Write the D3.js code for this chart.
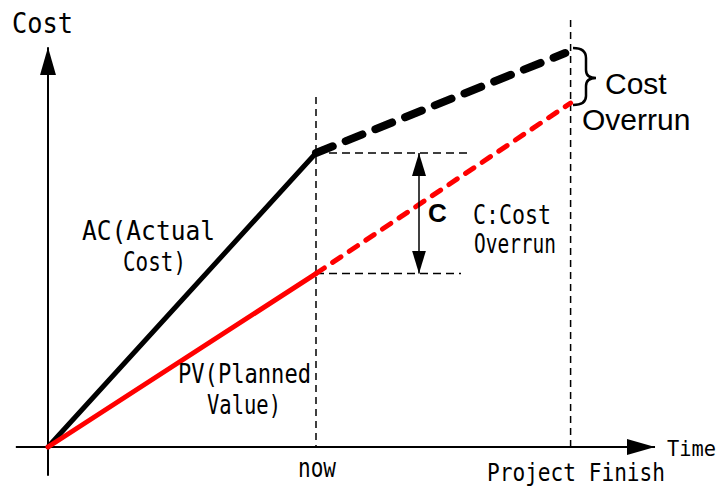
<!DOCTYPE html>
<html><head><meta charset="utf-8">
<script src="https://cdn.jsdelivr.net/npm/d3@7"></script>
<style>html,body{margin:0;padding:0;background:#fff;}svg{display:block;}</style>
</head><body>
<script>
// ---- data (time units: now = 1; cost units arbitrary) ----
const milestones = [
  {name: "now", t: 1},
  {name: "Project Finish", t: 1.95}
];
const acActual   = [[0, 0], [1, 100]];
const acForecast = [[1, 100], [1.93, 134]];
const pvActual   = [[0, 0], [1, 59]];
const pvForecast = [[1, 59], [1.95, 117]];
const axisTitles = ["Cost", "Time"];

const W = 722, H = 486;
const svg = d3.select("body").append("svg").attr("width", W).attr("height", H);
const x = d3.scaleLinear().domain([0, 2]).range([48, 584]);
const y = d3.scaleLinear().domain([0, 150]).range([447, 6]);
const line = d3.line().x(d => x(d[0])).y(d => y(d[1]));
const mono = "'DejaVu Sans Mono', 'Liberation Mono', monospace";
const sans = "'Liberation Sans', Arial, sans-serif";

// arrow markers
const defs = svg.append("defs");
defs.append("marker").attr("id", "axArrow").attr("viewBox", "0 0 28 16")
  .attr("refX", 28).attr("refY", 8).attr("markerWidth", 28).attr("markerHeight", 16)
  .attr("markerUnits", "userSpaceOnUse").attr("orient", "auto")
  .append("path").attr("d", "M0,0 L28,8 L0,16 Z").attr("fill", "#000");
defs.append("marker").attr("id", "cArrow").attr("viewBox", "0 0 23 14")
  .attr("refX", 23).attr("refY", 7).attr("markerWidth", 23).attr("markerHeight", 14)
  .attr("markerUnits", "userSpaceOnUse").attr("orient", "auto-start-reverse")
  .append("path").attr("d", "M0,0 L23,7 L0,14 Z").attr("fill", "#000");

// vertical dashed milestone lines
const nowT = milestones[0].t, finT = milestones[1].t;
svg.append("line").attr("x1", x(nowT)).attr("x2", x(nowT)).attr("y1", 97).attr("y2", y(0))
  .attr("stroke", "#000").attr("stroke-width", 1.5).attr("stroke-dasharray", "7,5");
svg.append("line").attr("x1", x(finT)).attr("x2", x(finT)).attr("y1", 20).attr("y2", y(0))
  .attr("stroke", "#000").attr("stroke-width", 1.5).attr("stroke-dasharray", "7,5");

// horizontal dashed reference lines at "now"
svg.append("line").attr("x1", x(nowT)).attr("x2", 470).attr("y1", y(acActual[1][1])).attr("y2", y(acActual[1][1]))
  .attr("stroke", "#000").attr("stroke-width", 1.5).attr("stroke-dasharray", "8,5");
svg.append("line").attr("x1", x(nowT)).attr("x2", 461).attr("y1", y(pvActual[1][1])).attr("y2", y(pvActual[1][1]))
  .attr("stroke", "#000").attr("stroke-width", 1.5).attr("stroke-dasharray", "8,5");

// axes
svg.append("line").attr("x1", x(-0.12)).attr("x2", x(2.265)).attr("y1", y(0)).attr("y2", y(0))
  .attr("stroke", "#000").attr("stroke-width", 2).attr("marker-end", "url(#axArrow)");
svg.append("line").attr("x1", x(0)).attr("x2", x(0)).attr("y1", y(-9.8)).attr("y2", y(136))
  .attr("stroke", "#000").attr("stroke-width", 2).attr("marker-end", "url(#axArrow)");

// lines
svg.append("path").attr("d", line(acActual)).attr("fill", "none").attr("stroke", "#000")
  .attr("stroke-width", 5).attr("stroke-linecap", "round");
svg.append("path").attr("d", line(acForecast)).attr("fill", "none").attr("stroke", "#000")
  .attr("stroke-width", 8).attr("stroke-dasharray", "18,14").attr("stroke-linecap", "round");
svg.append("path").attr("d", line(pvActual)).attr("fill", "none").attr("stroke", "#f00")
  .attr("stroke-width", 5).attr("stroke-linecap", "round");
svg.append("path").attr("d", line(pvForecast)).attr("fill", "none").attr("stroke", "#f00")
  .attr("stroke-width", 5).attr("stroke-dasharray", "10,10").attr("stroke-linecap", "round");

// C double arrow
svg.append("line").attr("x1", 419).attr("x2", 419).attr("y1", y(acActual[1][1])).attr("y2", y(pvActual[1][1]))
  .attr("stroke", "#000").attr("stroke-width", 1.5)
  .attr("marker-start", "url(#cArrow)").attr("marker-end", "url(#cArrow)");

// brace
svg.append("path")
  .attr("d", "M573,48 Q586,48 586,58 L586,70 Q586,78 596,78 Q586,78 586,86 L586,96 Q586,105 573,105")
  .attr("fill", "none").attr("stroke", "#000").attr("stroke-width", 2.5);

// texts
function monoText(t, x0, yb, len, size) {
  svg.append("text").attr("x", x0).attr("y", yb).text(t)
    .attr("font-family", mono).attr("font-size", size || 26)
    .attr("textLength", len).attr("lengthAdjust", "spacingAndGlyphs").attr("fill", "#000");
}
monoText(axisTitles[0], 12, 33, 61, 29);
monoText(axisTitles[1], 667, 456, 49, 22);
monoText(milestones[0].name, 298, 477, 38, 26);
monoText(milestones[1].name, 487, 481, 178, 24);
monoText("AC(Actual", 82, 240, 133, 26);
monoText("Cost)", 123, 271, 63, 26);
monoText("PV(Planned", 178, 383, 133, 26);
monoText("Value)", 207, 414, 74, 26);
monoText("C:Cost", 473, 224, 78, 26);
monoText("Overrun", 474, 253, 82, 26);

svg.append("text").attr("x", 428).attr("y", 222).text("C")
  .attr("font-family", sans).attr("font-weight", "bold").attr("font-size", 26).attr("fill", "#000");
svg.append("text").attr("x", 605).attr("y", 94).text("Cost")
  .attr("font-family", sans).attr("font-size", 30).attr("fill", "#000");
svg.append("text").attr("x", 582).attr("y", 130).text("Overrun")
  .attr("font-family", sans).attr("font-size", 30).attr("fill", "#000");
</script>
</body></html>
